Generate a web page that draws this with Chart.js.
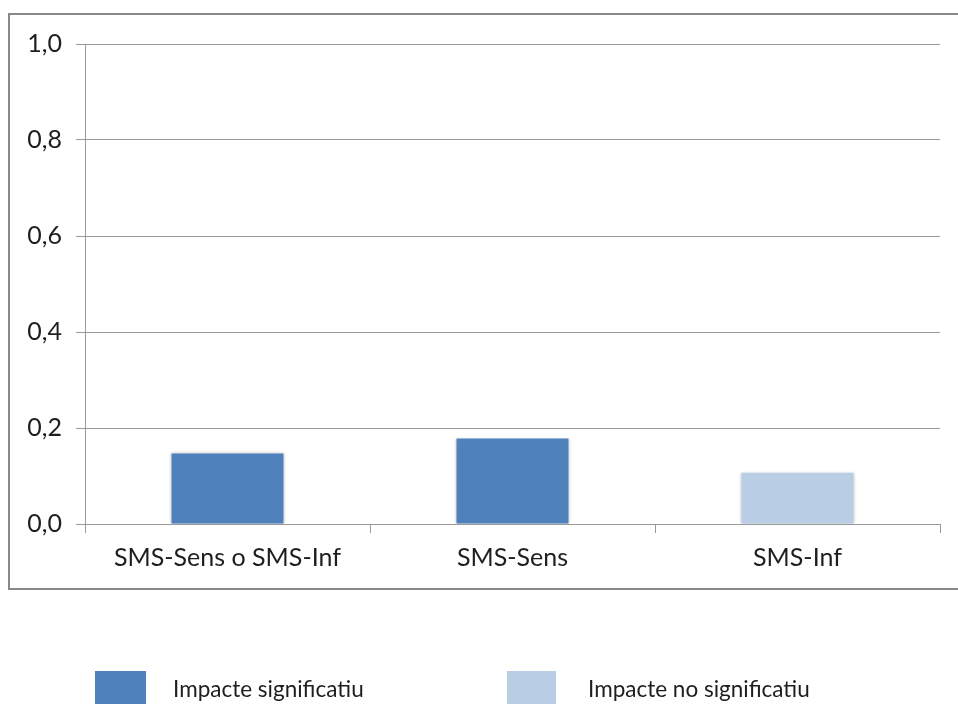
<!DOCTYPE html>
<html>
<head>
<meta charset="utf-8">
<script src="https://cdn.jsdelivr.net/npm/chart.js@4/dist/chart.umd.min.js"></script>
<style>
  html, body { margin: 0; padding: 0; width: 958px; height: 704px; overflow: hidden; background: #fff; }
  #frame { position: absolute; left: 8px; top: 13px; width: 1000px; height: 573px; border: 2px solid #888; }
  #chart { position: absolute; left: 0; top: 0; }
  .lg-box { position: absolute; top: 671px; height: 40px; }
  .lg-text { position: absolute; top: 675px; font-family: Lato, sans-serif; font-size: 22.5px; color: #1e1e1e; white-space: nowrap; }
</style>
</head>
<body>
<div id="frame"></div>
<canvas id="chart" width="958" height="704"></canvas>
<div id="legend"></div>
<script>
// Categories and values
const categories = ['SMS-Sens o SMS-Inf', 'SMS-Sens', 'SMS-Inf'];
const significantValues = [0.147, 0.178, null];
const nonSignificantValues = [null, null, 0.107];
const seriesNames = ['Impacte significatiu', 'Impacte no significatiu'];
const seriesColors = ['#4F81BD', '#B9CDE5'];
const yMin = 0, yMax = 1.0, yStep = 0.2;

const gridColor = '#9a9a9a';
const fontFamily = 'Lato, sans-serif';

// Soft drop shadow behind the bars
const barShadow = {
  id: 'barShadow',
  beforeDatasetsDraw(chart) {
    const ctx = chart.ctx;
    ctx.save();
    ctx.shadowColor = 'rgba(0,0,0,0.22)';
    ctx.shadowBlur = 3;
    ctx.shadowOffsetX = 0;
    ctx.shadowOffsetY = 0;
  },
  afterDatasetsDraw(chart) {
    chart.ctx.restore();
  }
};

const chart = new Chart(document.getElementById('chart'), {
  type: 'bar',
  data: {
    labels: categories,
    datasets: [
      { label: seriesNames[0], data: significantValues, backgroundColor: seriesColors[0] },
      { label: seriesNames[1], data: nonSignificantValues, backgroundColor: seriesColors[1] }
    ]
  },
  options: {
    responsive: false,
    animation: false,
    devicePixelRatio: 1,
    layout: { padding: { top: 44, right: 18, left: 0, bottom: 0 } },
    datasets: { bar: { grouped: false, categoryPercentage: 1, barPercentage: 0.393, borderWidth: 0 } },
    plugins: { legend: { display: false }, tooltip: { enabled: false } },
    scales: {
      x: {
        afterFit(s) { s.height = 180; },
        border: { display: true, color: gridColor, width: 1 },
        grid: { display: true, drawOnChartArea: false, drawTicks: true, tickLength: 9, color: gridColor, offset: true },
        ticks: { color: '#1e1e1e', padding: 10, font: { family: fontFamily, size: 25 }, maxRotation: 0 }
      },
      y: {
        min: yMin, max: yMax,
        afterFit(s) { s.width = 85; },
        border: { display: true, color: gridColor, width: 1 },
        grid: { color: gridColor, lineWidth: 1, tickLength: 9, drawTicks: true },
        ticks: {
          stepSize: yStep, color: '#1e1e1e', padding: 14,
          font: { family: fontFamily, size: 25 },
          callback: v => v.toFixed(1).replace('.', ',')
        }
      }
    }
  },
  plugins: [barShadow]
});

// Legend below the frame, built from the datasets
const legendLefts = [[95, 51, 173], [507, 49, 588]];
const legend = document.getElementById('legend');
chart.data.datasets.forEach((ds, i) => {
  const [bx, bw, tx] = legendLefts[i];
  const box = document.createElement('div');
  box.className = 'lg-box';
  box.style.left = bx + 'px';
  box.style.width = bw + 'px';
  box.style.background = ds.backgroundColor;
  const txt = document.createElement('div');
  txt.className = 'lg-text';
  txt.style.left = tx + 'px';
  txt.textContent = ds.label;
  legend.appendChild(box);
  legend.appendChild(txt);
});
</script>
</body>
</html>
